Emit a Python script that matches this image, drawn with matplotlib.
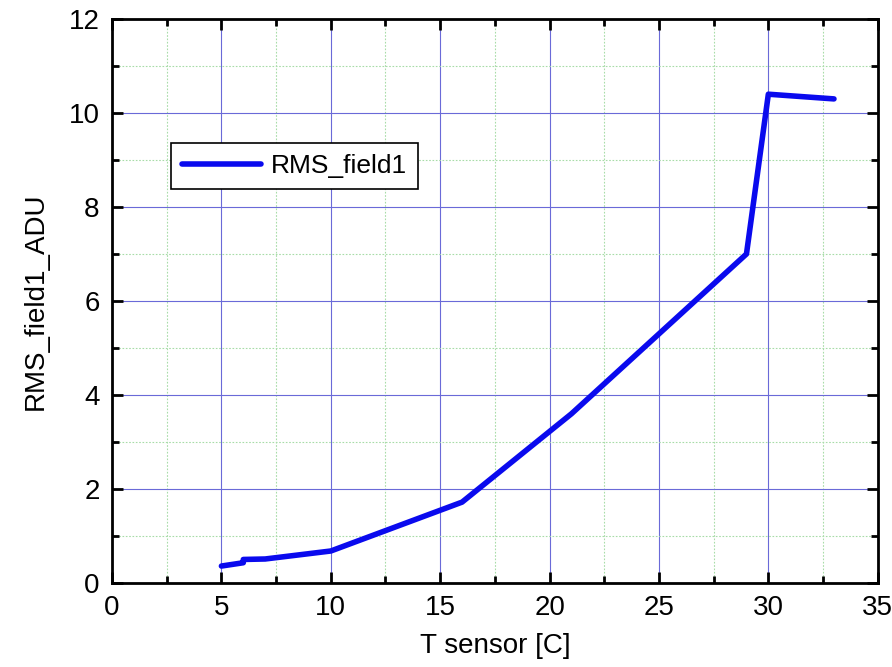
import matplotlib.pyplot as plt
from matplotlib.ticker import MultipleLocator

plt.rcParams['font.family'] = ['Liberation Sans', 'DejaVu Sans']

# data
t_sensor = [5, 6, 6, 7, 10, 16, 21, 25, 29, 30, 33]
rms_field1 = [0.36, 0.43, 0.5, 0.51, 0.68, 1.72, 3.6, 5.3, 7.0, 10.4, 10.3]

fig = plt.figure(figsize=(8.92, 6.67), dpi=100)
ax = fig.add_axes([0.1256, 0.126, 0.8584, 0.8455])

ax.plot(t_sensor, rms_field1, color="#0a0aee", linewidth=4,
        solid_joinstyle="round", solid_capstyle="round",
        label="RMS_field1", zorder=3)

ax.set_xlim(0, 35)
ax.set_ylim(0, 12)
ax.xaxis.set_major_locator(MultipleLocator(5))
ax.xaxis.set_minor_locator(MultipleLocator(2.5))
ax.yaxis.set_major_locator(MultipleLocator(2))
ax.yaxis.set_minor_locator(MultipleLocator(1))

ax.grid(which="major", color="#6a6ad8", linewidth=0.8)
ax.grid(which="minor", color="#a8dca8", linewidth=0.8, linestyle=(0, (1.5, 1.5)))
ax.set_axisbelow(True)

ax.tick_params(which="both", direction="in", top=True, right=True,
               labelsize=20, width=2, pad=9)
ax.tick_params(which="major", length=8)
ax.tick_params(which="minor", length=5)
for s in ax.spines.values():
    s.set_linewidth(2)

ax.set_xlabel("T sensor [C]", fontsize=20, labelpad=8)
ax.set_ylabel("RMS_field1_ADU", fontsize=20, labelpad=14)

leg = ax.legend(loc="upper left", bbox_to_anchor=(0.077, 0.78), fontsize=19,
                fancybox=False, edgecolor="black", framealpha=1,
                handlelength=3.0, handletextpad=0.35, borderpad=0.42,
                borderaxespad=0)
leg.get_frame().set_linewidth(1.2)

fig.savefig("out.png", dpi=100)
